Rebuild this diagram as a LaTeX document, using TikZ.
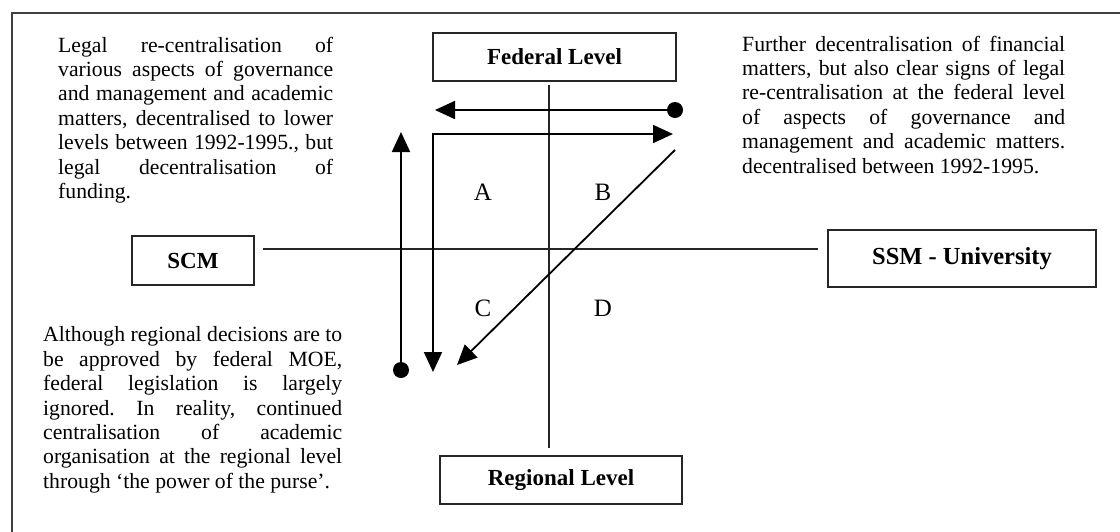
\documentclass[tikz,border=0pt]{standalone}
\usepackage{fontspec}
\setmainfont{Liberation Serif}
\usetikzlibrary{arrows.meta}
\newcommand\jline[2]{\makebox[#1][s]{#2}}
\frenchspacing
\begin{document}
\begin{tikzpicture}[x=1pt,y=-1pt,
  lbox/.style={draw=black!85, line width=1.6pt, inner sep=0pt,
    font=\fontsize{23}{26}\selectfont\bfseries},
  axis/.style={line width=1.6pt, draw=black!85},
  arr/.style={line width=1.8pt, -{Triangle[length=20pt,width=18pt]}},
  dbl/.style={line width=1.8pt, {Triangle[length=20pt,width=18pt]}-{Triangle[length=20pt,width=18pt]}},
  dot/.style={circle, fill=black, inner sep=0pt, minimum size=16pt},
  txt/.style={anchor=north west, inner sep=0pt, align=left,
    font=\fontsize{21.7}{24.4}\selectfont\frenchspacing},
  quad/.style={inner sep=0pt, font=\fontsize{25}{28}\selectfont}]
\useasboundingbox (0,0) rectangle (1120,531);
\fill[white] (0,0) rectangle (1120,531);
% outer frame
\begin{scope}
\clip (0,0) rectangle (1120,531);
\draw[line width=2pt, black!75] (12,560) -- (12,13) -- (1140,13);
\end{scope}
% boxes
\node[lbox, minimum width=243pt, minimum height=48pt] (fed) at (554.5,57) {Federal Level};
\node[lbox, minimum width=122pt, minimum height=49pt] (scm) at (193,260.5) {SCM};
\node[lbox, minimum width=268pt, minimum height=57pt, font=\fontsize{24.5}{27}\selectfont\bfseries] (ssm) at (962,258.5) {SSM - University};
\node[lbox, minimum width=242pt, minimum height=48pt] (reg) at (561,480) {Regional Level};
% axes
\coordinate (vtop) at (549,85);
\coordinate (vbot) at (549,448);
\coordinate (hl) at (263,249);
\coordinate (hr) at (818,249);
\draw[axis] (vtop) -- (vbot);
\draw[axis] (hl) -- (hr);
% quadrant labels
\node[quad] (qa) at (483,192) {A};
\node[quad] (qb) at (603,192) {B};
\node[quad] (qc) at (483,308) {C};
\node[quad] (qd) at (603,308) {D};
% arrows
\node[dot] (d1) at (675,110) {};
\node[dot] (d2) at (401,370) {};
\coordinate (t1) at (435,110);
\draw[arr] (d1) -- (t1);
\coordinate (t2a) at (673,134);
\coordinate (c2) at (433,134);
\coordinate (t2b) at (433,372);
\draw[dbl] (t2a) -- (c2) -- (t2b);
\coordinate (s3) at (675,150);
\coordinate (t3) at (457,365);
\draw[arr] (s3) -- (t3);
\coordinate (t4) at (401,132);
\draw[arr] (d2) -- (t4);
% text blocks
\node[txt] (tl) at (58,36.7) {%
\jline{275pt}{Legal re-centralisation of}\\
\jline{275pt}{various aspects of governance}\\
\jline{275pt}{and management and academic}\\
\jline{275pt}{matters, decentralised to lower}\\
\jline{275pt}{levels between 1992-1995., but}\\
\jline{275pt}{legal decentralisation of}\\
funding.};
\node[txt] (tr) at (742,35.7) {%
\jline{323pt}{Further decentralisation of financial}\\
\jline{323pt}{matters, but also clear signs of legal}\\
\jline{323pt}{re-centralisation at the federal level}\\
\jline{323pt}{of aspects of governance and}\\
\jline{323pt}{management and academic matters.}\\
decentralised between 1992-1995.};
\node[txt] (bl) at (43,326.7) {%
\jline{299pt}{Although regional decisions are to}\\
\jline{299pt}{be approved by federal MOE,}\\
\jline{299pt}{federal legislation is largely}\\
\jline{299pt}{ignored. In reality, continued}\\
\jline{299pt}{centralisation of academic}\\
\jline{299pt}{organisation at the regional level}\\
through ‘the power of the purse’.};
\end{tikzpicture}
\end{document}
